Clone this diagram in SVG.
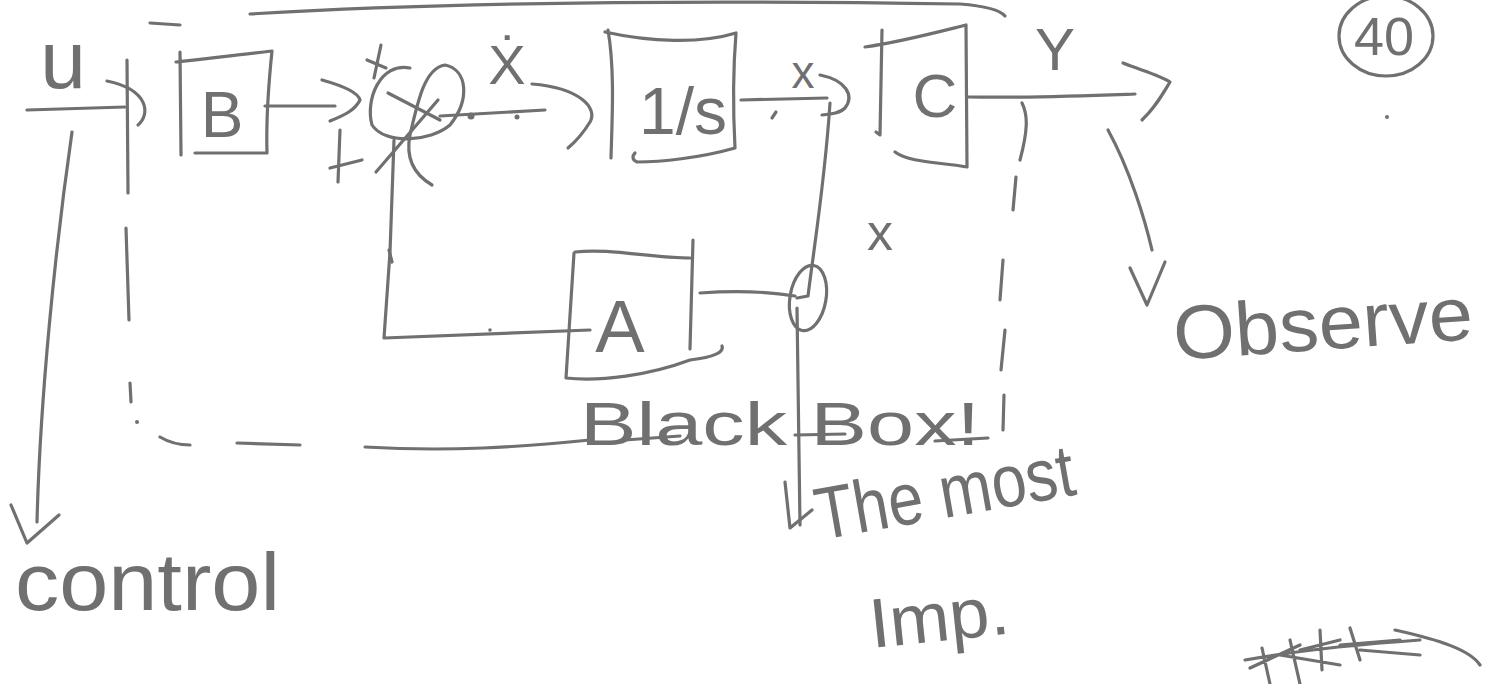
<svg xmlns="http://www.w3.org/2000/svg" width="1486" height="684" viewBox="0 0 1486 684">
<style>
.s{fill:none;stroke:#707070;stroke-width:3.2;stroke-linecap:round;stroke-linejoin:round}
.t{fill:#707070;font-family:"Liberation Sans",Arial,sans-serif}
.d{fill:#707070}
</style>
<rect width="1486" height="684" fill="#fff"/>
<g id="boundary">
<path class="s" d="M150 23 L180 25 M250 14 C450 2 700 0 960 4 C985 6 1000 10 1005 16"/>
<path class="s" d="M127 60 L128 193 M126 228 L129 320 M130 383 L131 402"/>
<path class="s" d="M160 437 C170 443 180 445 190 445 M237 443 L300 445 M365 447 C450 452 520 447 590 440"/>
<path class="s" d="M1022 103 C1028 115 1028 130 1020 160 M1016 177 L1013 210 M1003 260 L1000 300 M1005 330 L1001 370 M1004 395 L1003 430"/>
<circle class="d" cx="137" cy="422" r="2"/>
<text class="t" x="580" y="445" font-size="62" textLength="400" lengthAdjust="spacingAndGlyphs">Black Box!</text>
<path class="s" d="M625 440 L680 436 M935 441 L988 438 M795 435 L845 434"/>
</g>
<g id="connectors">
<!-- u input -->
<path class="s" d="M27 110 L125 107"/>
<path class="s" d="M107 81 C150 90 150 115 138 125"/>
<!-- control arrow -->
<path class="s" d="M72 132 C55 250 40 400 37 522 M11 505 L27 543 L59 515"/>
<!-- B to sum -->
<path class="s" d="M265 106 L335 106 M322 80 C340 85 358 92 360 100 C355 110 345 115 330 121"/>
<!-- sum to 1/s -->
<path class="s" d="M440 116 L545 110"/>
<circle class="d" cx="471" cy="116" r="3.5"/>
<circle class="d" cx="517" cy="117" r="2.5"/>
<path class="s" d="M532 84 C580 88 598 108 590 122 C582 135 574 143 568 148"/>
<!-- 1/s to C -->
<path class="s" d="M741 100 L827 98"/>
<path class="s" d="M776 112 L772 118"/>
<path class="s" d="M820 75 C845 80 855 95 845 108 C840 113 832 114 822 115"/>
<!-- branch down -->
<path class="s" d="M830 103 C825 180 815 240 808 296 L797 298"/>
<path class="s" d="M797 308 L800 525"/>
<path class="s" d="M785 482 L790 528 L812 510"/>
<!-- A to branch -->
<path class="s" d="M700 293 C740 290 770 292 795 296"/>
<!-- feedback A to sum -->
<path class="s" d="M590 330 C520 333 450 335 384 338 L390 252 L394 140"/>
<path class="s" d="M389 250 L392 262" stroke-width="5"/>
<circle class="d" cx="490" cy="330" r="1.8"/>
<!-- C to output -->
<path class="s" d="M968 97 C1030 98 1080 96 1135 94"/>
<path class="s" d="M1123 63 C1140 70 1160 75 1170 82 C1162 95 1155 108 1142 120"/>
<!-- observe arrow -->
<path class="s" d="M1108 130 C1130 170 1145 220 1152 250"/>
<path class="s" d="M1130 268 L1147 305 L1165 262"/>
</g>
<g id="node-B">
<path class="s" d="M180 52 L181 155 M176 62 C210 58 240 55 272 51 C269 80 266 120 267 153 L195 153"/>
<text class="t" x="222" y="137" font-size="64" text-anchor="middle">B</text>
</g>
<g id="node-sum">
<path class="s" d="M410 68 C380 62 365 100 372 125 C385 145 430 142 450 125 C470 100 468 70 445 65 C425 68 418 100 410 135 C405 160 415 175 432 185"/>
<path class="s" d="M388 93 L440 120 M438 100 L376 172"/>
<path class="s" d="M381 45 L374 78 M367 60 L386 68"/>
<path class="s" d="M340 130 L338 182 M330 168 L362 160"/>
</g>
<g id="node-integrator">
<path class="s" d="M608 30 C615 70 612 120 611 158 M605 32 C650 42 700 44 736 33 C733 70 733 110 735 148 C700 158 660 162 637 162 C632 160 632 156 635 153"/>
<text class="t" x="683" y="134" font-size="66" text-anchor="middle">1/s</text>
</g>
<g id="node-C">
<path class="s" d="M882 30 L880 135 L876 132 M865 47 C900 42 930 34 966 25 L967 167 C940 162 910 163 895 152"/>
<text class="t" x="935" y="117" font-size="62" text-anchor="middle">C</text>
</g>
<g id="node-A">
<path class="s" d="M575 252 C610 248 650 258 690 258 M574 253 L566 378 C600 382 650 375 690 360 C715 357 724 352 722 346 M693 240 L690 349"/>
<text class="t" x="620" y="352" font-size="74" text-anchor="middle">A</text>
<ellipse class="s" cx="808" cy="298" rx="18" ry="33" transform="rotate(10 808 298)"/>
</g>
<g id="labels">
<text class="t" x="63" y="88" font-size="82" text-anchor="middle">u</text>
<text class="t" x="507" y="84" font-size="56" text-anchor="middle">Ẋ</text>
<text class="t" x="803" y="88" font-size="46" text-anchor="middle">x</text>
<text class="t" x="880" y="250" font-size="52" text-anchor="middle">x</text>
<text class="t" x="1055" y="70" font-size="60" text-anchor="middle">Y</text>
<text class="t" x="1384" y="55" font-size="54" text-anchor="middle">40</text>
<ellipse class="s" cx="1386" cy="36" rx="47" ry="40"/>
<circle class="d" cx="1387" cy="117" r="2"/>
<text class="t" x="1175" y="360" font-size="76" transform="rotate(-4 1175 360)" textLength="300" lengthAdjust="spacingAndGlyphs">Observe</text>
<text class="t" x="15" y="610" font-size="82" textLength="265" lengthAdjust="spacingAndGlyphs">control</text>
<text class="t" x="820" y="540" font-size="74" transform="rotate(-10 820 540)" textLength="262" lengthAdjust="spacingAndGlyphs">The most</text>
<text class="t" x="872" y="648" font-size="70" transform="rotate(-6 872 648)" textLength="140" lengthAdjust="spacingAndGlyphs">Imp.</text>
</g>
<g id="scribble">
<path class="s" d="M1245 660 C1300 650 1350 645 1420 640 M1250 668 L1300 645 M1262 648 L1270 684 M1290 640 L1300 684 M1320 630 L1322 670 M1300 650 L1340 640 M1350 628 L1360 660 M1340 645 L1400 640 M1395 630 C1440 640 1470 650 1480 665 M1280 655 L1340 665 M1360 650 L1420 655"/>
</g>
</svg>
